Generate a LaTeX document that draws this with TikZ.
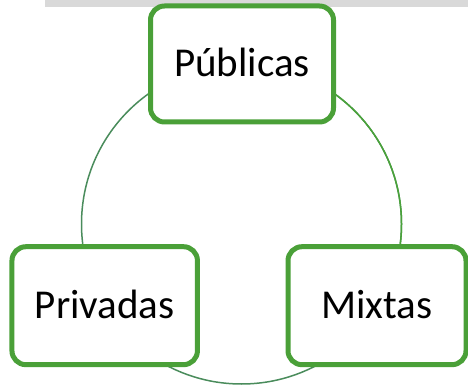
\documentclass[tikz,border=0pt]{standalone}
\usepackage{fontspec}
\setmainfont{Carlito}
\definecolor{boxgreen}{HTML}{4AA038}
\definecolor{arcteal}{HTML}{4A8C5C}
\definecolor{arcgreen}{HTML}{4AA23A}
\definecolor{bargray}{HTML}{D9D9D9}
\tikzset{
  catbox/.style={draw=boxgreen, line width=5pt, rounded corners=14pt, fill=white,
    inner sep=0pt, font=\fontsize{41pt}{45pt}\selectfont, text height=25pt, text depth=0pt},
  ring/.style={line width=1.5pt}
}
\begin{document}
\begin{tikzpicture}[x=1pt,y=-1pt]
\useasboundingbox (0,0) rectangle (468,387);
\clip (0,0) rectangle (468,387);
\fill[bargray] (44.7,0) rectangle (468,6.7);
\coordinate (c) at (241.5,224);
\draw[ring, arcteal] (c) circle[radius=160];
\begin{scope}
  \clip (300,0) rectangle (468,300);
  \draw[ring, arcgreen] (c) circle[radius=160];
\end{scope}
\node[catbox, minimum width=183pt, minimum height=116pt] (pub) at (242,64) {Públicas};
\node[catbox, minimum width=185.5pt, minimum height=118pt] (priv) at (104.7,305.7) {Privadas};
\node[catbox, minimum width=178pt, minimum height=118pt] (mix) at (377,305.7) {Mixtas};
\end{tikzpicture}
\end{document}
